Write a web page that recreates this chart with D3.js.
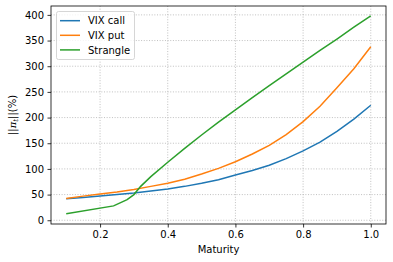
<!doctype html>
<html>
<head>
<meta charset="utf-8">
<script src="https://d3js.org/d3.v7.min.js"></script>
<style>
  body { margin: 0; background: #fff; }
  text { font-family: "DejaVu Sans", sans-serif; }
</style>
</head>
<body>
<svg width="393" height="262"></svg>
<script>
// data
var maturity = [0.1, 0.15, 0.2, 0.25, 0.3, 0.35, 0.4, 0.45, 0.5, 0.55, 0.6, 0.65, 0.7, 0.75, 0.8, 0.85, 0.9, 0.95, 1.0];
var vixCall = [42, 44.5, 47, 50, 53, 57, 61, 66, 72, 79, 88, 97, 107, 120, 135, 152, 173, 197, 224];
var vixPut  = [42.5, 47, 51, 55, 60, 66, 72, 80, 90, 101, 114, 129, 146, 167, 192, 222, 258, 295, 338];
var strangleT = [0.1, 0.24, 0.28, 0.3, 0.32, 0.35, 0.4, 0.45, 0.5, 0.55, 0.6, 0.65, 0.7, 0.75, 0.8, 0.85, 0.9, 0.95, 1.0];
var strangle  = [12.5, 28, 40, 50, 66, 85, 113, 140, 166, 191, 215, 239, 262, 285, 308, 331, 353, 376, 398];
var xTicks = [0.2, 0.4, 0.6, 0.8, 1.0];
var yTicks = [0, 50, 100, 150, 200, 250, 300, 350, 400];

var series = [
  {name: "VIX call", color: "#1f77b4", x: maturity, y: vixCall},
  {name: "VIX put", color: "#ff7f0e", x: maturity, y: vixPut},
  {name: "Strangle", color: "#2ca02c", x: strangleT, y: strangle}
];

var svg = d3.select("svg");
var pLeft = 51, pRight = 386, pTop = 6, pBottom = 224;

var x = d3.scaleLinear().domain([0.055, 1.045]).range([pLeft, pRight]);
var y = d3.scaleLinear().domain([-7.3, 417.3]).range([pBottom, pTop]);

// grid
var grid = svg.append("g");
grid.selectAll(".gx").data(xTicks).enter().append("line")
  .attr("x1", function(d) { return x(d); }).attr("x2", function(d) { return x(d); })
  .attr("y1", pTop).attr("y2", pBottom)
  .attr("stroke", "#b0b0b0").attr("stroke-width", 0.8).attr("stroke-dasharray", "1,1.65");
grid.selectAll(".gy").data(yTicks).enter().append("line")
  .attr("y1", function(d) { return y(d); }).attr("y2", function(d) { return y(d); })
  .attr("x1", pLeft).attr("x2", pRight)
  .attr("stroke", "#b0b0b0").attr("stroke-width", 0.8).attr("stroke-dasharray", "1,1.65");

// lines
var line = d3.line()
  .x(function(d) { return x(d[0]); })
  .y(function(d) { return y(d[1]); });

series.forEach(function(s) {
  svg.append("path")
    .datum(d3.zip(s.x, s.y))
    .attr("fill", "none")
    .attr("stroke", s.color)
    .attr("stroke-width", 1.5)
    .attr("d", line);
});

// axes
var xAxis = svg.append("g")
  .attr("transform", "translate(0," + pBottom + ")")
  .call(d3.axisBottom(x).tickValues(xTicks).tickSize(3.5).tickPadding(3.5).tickFormat(d3.format(".1f")));
var yAxis = svg.append("g")
  .attr("transform", "translate(" + pLeft + ",0)")
  .call(d3.axisLeft(y).tickValues(yTicks).tickSize(3.5).tickPadding(3.5));
[xAxis, yAxis].forEach(function(a) {
  a.select(".domain").remove();
  a.selectAll("text").attr("font-family", "DejaVu Sans, sans-serif").attr("font-size", 10).attr("fill", "#000");
  a.selectAll("line").attr("stroke", "#000").attr("stroke-width", 0.8);
});

// frame
svg.append("rect")
  .attr("x", pLeft).attr("y", pTop)
  .attr("width", pRight - pLeft).attr("height", pBottom - pTop)
  .attr("fill", "none").attr("stroke", "#000").attr("stroke-width", 0.8);

// labels
svg.append("text")
  .attr("x", (pLeft + pRight) / 2).attr("y", 253)
  .attr("text-anchor", "middle")
  .attr("font-size", 10)
  .text("Maturity");

var yl = svg.append("text")
  .attr("transform", "translate(16," + ((pTop + pBottom) / 2) + ") rotate(-90)")
  .attr("text-anchor", "middle")
  .attr("font-size", 10);
yl.append("tspan").text("||");
yl.append("tspan").attr("font-family", "DejaVu Serif, serif").attr("font-style", "italic").text("π");
yl.append("tspan").attr("font-size", 7).attr("dy", 2).attr("font-family", "DejaVu Serif, serif").attr("font-style", "italic").text("t");
yl.append("tspan").attr("dy", -2).text("||(%)");

// legend
var lg = svg.append("g");
lg.append("rect")
  .attr("x", 56.5).attr("y", 11.5).attr("width", 78).attr("height", 48).attr("rx", 2)
  .attr("fill", "#fff").attr("fill-opacity", 0.8)
  .attr("stroke", "#ccc").attr("stroke-width", 0.8);
series.forEach(function(s, i) {
  var yy = 20.7 + i * 14.6;
  lg.append("line")
    .attr("x1", 60).attr("x2", 80)
    .attr("y1", yy).attr("y2", yy)
    .attr("stroke", s.color).attr("stroke-width", 1.5);
  lg.append("text")
    .attr("x", 88).attr("y", yy + 3.6)
    .attr("font-size", 10)
    .text(s.name);
});
</script>
</body>
</html>
